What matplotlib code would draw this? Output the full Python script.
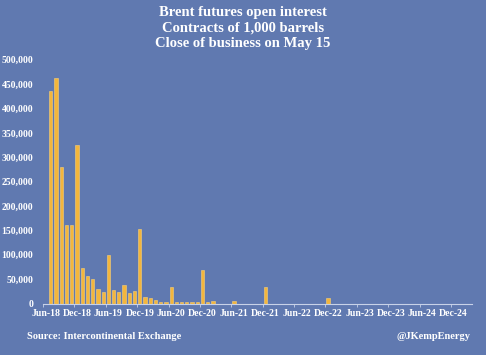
import matplotlib
matplotlib.use("Agg")
import matplotlib.pyplot as plt
import numpy as np

# monthly contracts, Jun-18 .. Mar-25
start_year, start_month = 2018, 6
n_months = 82

# open interest by contract month (Jul-18 onwards, everything later is zero)
oi = [0, 436000, 462000, 280000, 162000, 162000, 325000,
      72000, 57000, 51000, 30000, 24000, 100000,
      28000, 23000, 38000, 21000, 25000, 153000,
      14000, 11000, 8000, 4000, 2500, 34000,
      3000, 3000, 3000, 2500, 3000, 68000,
      4000, 6000, 0, 0, 0, 6000,
      0, 0, 0, 0, 0, 34000,
      0, 0, 0, 0, 0, 0,
      0, 0, 0, 0, 0, 12000]
oi = oi + [0] * (n_months - len(oi))

mon = ['Jan', 'Feb', 'Mar', 'Apr', 'May', 'Jun',
       'Jul', 'Aug', 'Sep', 'Oct', 'Nov', 'Dec']
labels = []
for i in range(n_months):
    k = start_month - 1 + i
    labels.append('{}-{:02d}'.format(mon[k % 12], (start_year + k // 12) % 100))

bg = '#6079B0'
bar_col = '#F4B63C'
txt = 'white'
serif = ['Liberation Serif', 'DejaVu Serif']

fig = plt.figure(figsize=(4.86, 3.55), dpi=100, facecolor=bg)
ax = fig.add_axes([0.0885, 0.145, 0.8825, 0.687])
ax.set_facecolor(bg)

x = np.arange(n_months)
ax.bar(x, oi, width=0.62, color=bar_col, edgecolor='#F9D27A', linewidth=0.4)

ax.set_xlim(-0.5, n_months - 0.5)
ax.set_ylim(0, 500000)
ax.set_yticks(np.arange(0, 500001, 50000))
ax.set_yticklabels(['{:,}'.format(v) for v in range(0, 500001, 50000)],
                   family=serif, fontsize=7, fontweight='bold', color=txt)
ax.set_xticks(x[::6])
ax.set_xticklabels(labels[::6], family=serif, fontsize=7, fontweight='bold', color=txt)
ax.set_xticks(np.arange(-0.5, n_months, 6), minor=True)
ax.tick_params(axis='x', which='major', length=0, pad=4)
ax.tick_params(axis='x', which='minor', length=2, color='#C8D2E8', width=0.6)
ax.tick_params(axis='y', length=0, pad=7)

for s in ['top', 'right', 'left']:
    ax.spines[s].set_visible(False)
ax.spines['bottom'].set_color('#C8D2E8')
ax.spines['bottom'].set_linewidth(0.8)

fig.text(0.5, 0.966, 'Brent futures open interest', ha='center', va='center',
         family=serif, fontsize=10.5, fontweight='bold', color=txt)
fig.text(0.5, 0.922, 'Contracts of 1,000 barrels', ha='center', va='center',
         family=serif, fontsize=10.5, fontweight='bold', color=txt)
fig.text(0.5, 0.877, 'Close of business on May 15', ha='center', va='center',
         family=serif, fontsize=10.5, fontweight='bold', color=txt)

fig.text(0.055, 0.053, 'Source: Intercontinental Exchange', ha='left', va='center',
         family=serif, fontsize=7.5, fontweight='bold', color=txt)
fig.text(0.968, 0.053, '@JKempEnergy', ha='right', va='center',
         family=serif, fontsize=7.5, fontweight='bold', color=txt)

fig.savefig('out.png', dpi=100, facecolor=bg)
